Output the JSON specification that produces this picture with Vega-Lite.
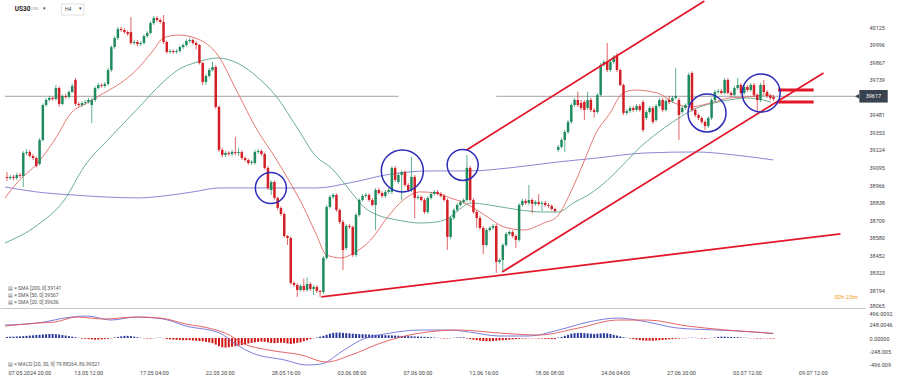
{
"$schema":"https://vega.github.io/schema/vega-lite/v6.json",
"padding":0,
"background":"white",
"bounds":"flush",
"spacing":1,
"config":{"view":{"stroke":null},"font":"Roboto","axis":{"grid":false,"ticks":false,"domain":false,"labelFontSize":5.5,"labelColor":"#444","labelOverlap":false,"labelBound":false,"labelFlush":false}},
"resolve":{"scale":{"x":"independent","y":"independent","color":"independent"}},
"datasets":{
"candles":[
{"i":0,"o":39026,"h":39062,"l":38996,"c":39018,"m":20},
{"i":1,"o":39018,"h":39040,"l":39004,"c":39026,"m":25},
{"i":2,"o":39026,"h":39040,"l":39000,"c":39018,"m":25},
{"i":3,"o":39018,"h":39055,"l":39004,"c":39040,"m":30},
{"i":4,"o":39040,"h":39055,"l":39018,"c":39033,"m":30},
{"i":5,"o":39033,"h":39215,"l":38952,"c":39202,"m":35},
{"i":6,"o":39202,"h":39230,"l":39185,"c":39209,"m":40},
{"i":7,"o":39209,"h":39225,"l":39170,"c":39180,"m":45},
{"i":8,"o":39180,"h":39195,"l":39150,"c":39165,"m":50},
{"i":9,"o":39165,"h":39175,"l":39095,"c":39106,"m":55},
{"i":10,"o":39121,"h":39310,"l":39110,"c":39297,"m":60},
{"i":11,"o":39297,"h":39565,"l":39285,"c":39553,"m":65},
{"i":12,"o":39553,"h":39605,"l":39540,"c":39590,"m":70},
{"i":13,"o":39590,"h":39620,"l":39580,"c":39605,"m":75},
{"i":14,"o":39605,"h":39615,"l":39585,"c":39597,"m":75},
{"i":15,"o":39597,"h":39700,"l":39585,"c":39678,"m":70},
{"i":16,"o":39678,"h":39690,"l":39539,"c":39561,"m":65},
{"i":17,"o":39561,"h":39630,"l":39550,"c":39619,"m":55},
{"i":18,"o":39619,"h":39635,"l":39600,"c":39612,"m":45},
{"i":19,"o":39612,"h":39660,"l":39600,"c":39649,"m":35},
{"i":20,"o":39649,"h":39710,"l":39640,"c":39693,"m":25},
{"i":21,"o":39737,"h":39751,"l":39545,"c":39561,"m":15},
{"i":22,"o":39561,"h":39575,"l":39540,"c":39553,"m":5},
{"i":23,"o":39553,"h":39580,"l":39540,"c":39568,"m":-10},
{"i":24,"o":39568,"h":39590,"l":39555,"c":39575,"m":-15},
{"i":25,"o":39575,"h":39605,"l":39565,"c":39590,"m":-20},
{"i":26,"o":39553,"h":39605,"l":39421,"c":39590,"m":-25},
{"i":27,"o":39590,"h":39690,"l":39575,"c":39678,"m":-30},
{"i":28,"o":39678,"h":39715,"l":39665,"c":39700,"m":-30},
{"i":29,"o":39700,"h":39712,"l":39680,"c":39693,"m":-25},
{"i":30,"o":39693,"h":39722,"l":39680,"c":39707,"m":-20},
{"i":31,"o":39707,"h":39825,"l":39695,"c":39810,"m":-15},
{"i":32,"o":39810,"h":39990,"l":39795,"c":39978,"m":-5},
{"i":33,"o":39978,"h":40058,"l":39965,"c":40044,"m":10},
{"i":34,"o":40044,"h":40125,"l":40030,"c":40110,"m":20},
{"i":35,"o":40110,"h":40125,"l":40090,"c":40103,"m":30},
{"i":36,"o":40103,"h":40115,"l":40075,"c":40088,"m":40},
{"i":37,"o":40088,"h":40100,"l":40060,"c":40074,"m":40},
{"i":38,"o":40088,"h":40198,"l":39995,"c":40008,"m":35},
{"i":39,"o":40008,"h":40030,"l":39995,"c":40015,"m":25},
{"i":40,"o":40015,"h":40030,"l":39985,"c":40000,"m":15},
{"i":41,"o":40000,"h":40022,"l":39985,"c":40008,"m":5},
{"i":42,"o":40008,"h":40070,"l":39995,"c":40059,"m":-5},
{"i":43,"o":40059,"h":40095,"l":40045,"c":40081,"m":-10},
{"i":44,"o":40081,"h":40168,"l":40070,"c":40154,"m":-10},
{"i":45,"o":40154,"h":40205,"l":40140,"c":40191,"m":-5},
{"i":46,"o":40191,"h":40205,"l":40162,"c":40176,"m":5},
{"i":47,"o":40176,"h":40190,"l":40150,"c":40162,"m":5},
{"i":48,"o":40162,"h":40213,"l":40000,"c":40015,"m":-5},
{"i":49,"o":40015,"h":40025,"l":39930,"c":39942,"m":-20},
{"i":50,"o":39942,"h":39962,"l":39930,"c":39949,"m":-25},
{"i":51,"o":39949,"h":39960,"l":39930,"c":39942,"m":-30},
{"i":52,"o":39942,"h":39962,"l":39930,"c":39949,"m":-35},
{"i":53,"o":39949,"h":39990,"l":39938,"c":39978,"m":-35},
{"i":54,"o":39978,"h":40005,"l":39965,"c":39993,"m":-40},
{"i":55,"o":39993,"h":40035,"l":39980,"c":40022,"m":-40},
{"i":56,"o":40022,"h":40045,"l":40010,"c":40030,"m":-40},
{"i":57,"o":40030,"h":40040,"l":39995,"c":40008,"m":-45},
{"i":58,"o":40008,"h":40020,"l":39960,"c":39993,"m":-50},
{"i":59,"o":39993,"h":40000,"l":39850,"c":39861,"m":-55},
{"i":60,"o":39861,"h":39870,"l":39700,"c":39722,"m":-60},
{"i":61,"o":39722,"h":39780,"l":39700,"c":39766,"m":-70},
{"i":62,"o":39766,"h":39825,"l":39755,"c":39810,"m":-80},
{"i":63,"o":39810,"h":39870,"l":39800,"c":39832,"m":-95},
{"i":64,"o":39832,"h":39845,"l":39525,"c":39539,"m":-120},
{"i":65,"o":39539,"h":39550,"l":39210,"c":39224,"m":-150},
{"i":66,"o":39224,"h":39240,"l":39170,"c":39187,"m":-170},
{"i":67,"o":39187,"h":39215,"l":39172,"c":39202,"m":-175},
{"i":68,"o":39202,"h":39215,"l":39180,"c":39194,"m":-170},
{"i":69,"o":39194,"h":39225,"l":39180,"c":39209,"m":-160},
{"i":70,"o":39209,"h":39319,"l":39185,"c":39202,"m":-150},
{"i":71,"o":39202,"h":39240,"l":39180,"c":39209,"m":-140},
{"i":72,"o":39209,"h":39220,"l":39150,"c":39165,"m":-130},
{"i":73,"o":39165,"h":39175,"l":39138,"c":39150,"m":-115},
{"i":74,"o":39150,"h":39160,"l":39115,"c":39128,"m":-100},
{"i":75,"o":39128,"h":39150,"l":39115,"c":39136,"m":-90},
{"i":76,"o":39128,"h":39225,"l":39115,"c":39209,"m":-80},
{"i":77,"o":39209,"h":39230,"l":39195,"c":39216,"m":-70},
{"i":78,"o":39216,"h":39228,"l":39180,"c":39194,"m":-65},
{"i":79,"o":39194,"h":39205,"l":39080,"c":39092,"m":-70},
{"i":80,"o":39092,"h":39105,"l":38930,"c":38945,"m":-80},
{"i":81,"o":38930,"h":39000,"l":38894,"c":38989,"m":-90},
{"i":82,"o":38989,"h":39000,"l":38860,"c":38872,"m":-95},
{"i":83,"o":38872,"h":38880,"l":38785,"c":38798,"m":-90},
{"i":84,"o":38798,"h":38810,"l":38740,"c":38754,"m":-85},
{"i":85,"o":38754,"h":38765,"l":38580,"c":38593,"m":-90},
{"i":86,"o":38593,"h":38600,"l":38527,"c":38578,"m":-100},
{"i":87,"o":38578,"h":38590,"l":38235,"c":38249,"m":-110},
{"i":88,"o":38249,"h":38260,"l":38220,"c":38234,"m":-100},
{"i":89,"o":38234,"h":38245,"l":38146,"c":38197,"m":-90},
{"i":90,"o":38197,"h":38240,"l":38185,"c":38227,"m":-80},
{"i":91,"o":38227,"h":38280,"l":38185,"c":38197,"m":-60},
{"i":92,"o":38197,"h":38290,"l":38185,"c":38241,"m":-40},
{"i":93,"o":38241,"h":38255,"l":38190,"c":38205,"m":-20},
{"i":94,"o":38205,"h":38235,"l":38160,"c":38219,"m":-5},
{"i":95,"o":38219,"h":38235,"l":38175,"c":38190,"m":10},
{"i":96,"o":38190,"h":38200,"l":38146,"c":38183,"m":25},
{"i":97,"o":38183,"h":38445,"l":38170,"c":38432,"m":40},
{"i":98,"o":38432,"h":38820,"l":38420,"c":38806,"m":60},
{"i":99,"o":38806,"h":38892,"l":38795,"c":38879,"m":80},
{"i":100,"o":38879,"h":38908,"l":38865,"c":38894,"m":95},
{"i":101,"o":38894,"h":38905,"l":38770,"c":38784,"m":100},
{"i":102,"o":38784,"h":38795,"l":38680,"c":38696,"m":100},
{"i":103,"o":38696,"h":38710,"l":38344,"c":38490,"m":95},
{"i":104,"o":38505,"h":38680,"l":38490,"c":38666,"m":90},
{"i":105,"o":38666,"h":38680,"l":38645,"c":38659,"m":85},
{"i":106,"o":38659,"h":38670,"l":38440,"c":38454,"m":80},
{"i":107,"o":38454,"h":38760,"l":38440,"c":38747,"m":75},
{"i":108,"o":38747,"h":38870,"l":38735,"c":38857,"m":72},
{"i":109,"o":38857,"h":38900,"l":38845,"c":38886,"m":70},
{"i":110,"o":38886,"h":38908,"l":38875,"c":38894,"m":68},
{"i":111,"o":38894,"h":38905,"l":38845,"c":38857,"m":65},
{"i":112,"o":38857,"h":38870,"l":38810,"c":38820,"m":62},
{"i":113,"o":38820,"h":38945,"l":38637,"c":38930,"m":60},
{"i":114,"o":38930,"h":38945,"l":38895,"c":38908,"m":57},
{"i":115,"o":38908,"h":38920,"l":38872,"c":38886,"m":55},
{"i":116,"o":38886,"h":38930,"l":38872,"c":38916,"m":52},
{"i":117,"o":38916,"h":38945,"l":38900,"c":38930,"m":50},
{"i":118,"o":38916,"h":39105,"l":38900,"c":39092,"m":48},
{"i":119,"o":39092,"h":39105,"l":38990,"c":39004,"m":45},
{"i":120,"o":38989,"h":39055,"l":38975,"c":39040,"m":42},
{"i":121,"o":39040,"h":39075,"l":38857,"c":39062,"m":40},
{"i":122,"o":39062,"h":39075,"l":38955,"c":38967,"m":37},
{"i":123,"o":38967,"h":38980,"l":38915,"c":38930,"m":35},
{"i":124,"o":38930,"h":39172,"l":38915,"c":39026,"m":32},
{"i":125,"o":39026,"h":39040,"l":38725,"c":38872,"m":30},
{"i":126,"o":38872,"h":38895,"l":38860,"c":38879,"m":27},
{"i":127,"o":38879,"h":38890,"l":38845,"c":38857,"m":25},
{"i":128,"o":38857,"h":38870,"l":38755,"c":38769,"m":22},
{"i":129,"o":38769,"h":38885,"l":38755,"c":38872,"m":18},
{"i":130,"o":38872,"h":38915,"l":38860,"c":38901,"m":15},
{"i":131,"o":38901,"h":38930,"l":38890,"c":38916,"m":10},
{"i":132,"o":38916,"h":38930,"l":38890,"c":38901,"m":5},
{"i":133,"o":38901,"h":38915,"l":38875,"c":38886,"m":-5},
{"i":134,"o":38886,"h":38900,"l":38845,"c":38857,"m":-8},
{"i":135,"o":38857,"h":38870,"l":38490,"c":38586,"m":-8},
{"i":136,"o":38586,"h":38740,"l":38570,"c":38725,"m":-5},
{"i":137,"o":38725,"h":38795,"l":38710,"c":38784,"m":5},
{"i":138,"o":38784,"h":38835,"l":38770,"c":38820,"m":10},
{"i":139,"o":38820,"h":38855,"l":38808,"c":38842,"m":12},
{"i":140,"o":38842,"h":38870,"l":38830,"c":38857,"m":15},
{"i":141,"o":38857,"h":39187,"l":38845,"c":39092,"m":-10},
{"i":142,"o":39092,"h":39105,"l":38845,"c":38857,"m":-20},
{"i":143,"o":38857,"h":38870,"l":38755,"c":38769,"m":-30},
{"i":144,"o":38769,"h":38780,"l":38652,"c":38725,"m":-40},
{"i":145,"o":38725,"h":38740,"l":38640,"c":38652,"m":-50},
{"i":146,"o":38652,"h":38665,"l":38461,"c":38527,"m":-55},
{"i":147,"o":38527,"h":38650,"l":38515,"c":38637,"m":-60},
{"i":148,"o":38637,"h":38665,"l":38625,"c":38652,"m":-60},
{"i":149,"o":38652,"h":38680,"l":38640,"c":38666,"m":-55},
{"i":150,"o":38666,"h":38680,"l":38322,"c":38403,"m":-50},
{"i":151,"o":38403,"h":38430,"l":38390,"c":38417,"m":-45},
{"i":152,"o":38417,"h":38540,"l":38329,"c":38527,"m":-40},
{"i":153,"o":38527,"h":38622,"l":38515,"c":38608,"m":-35},
{"i":154,"o":38608,"h":38635,"l":38595,"c":38622,"m":-30},
{"i":155,"o":38622,"h":38635,"l":38580,"c":38593,"m":-25},
{"i":156,"o":38593,"h":38605,"l":38505,"c":38564,"m":-20},
{"i":157,"o":38564,"h":38835,"l":38550,"c":38820,"m":-15},
{"i":158,"o":38820,"h":38865,"l":38808,"c":38850,"m":-10},
{"i":159,"o":38850,"h":38865,"l":38820,"c":38835,"m":-10},
{"i":160,"o":38835,"h":38967,"l":38820,"c":38857,"m":-5},
{"i":161,"o":38857,"h":38870,"l":38760,"c":38828,"m":-5},
{"i":162,"o":38828,"h":38855,"l":38815,"c":38842,"m":-5},
{"i":163,"o":38842,"h":38900,"l":38815,"c":38828,"m":-10},
{"i":164,"o":38828,"h":38850,"l":38776,"c":38835,"m":-10},
{"i":165,"o":38835,"h":38850,"l":38808,"c":38820,"m":-15},
{"i":166,"o":38820,"h":38835,"l":38800,"c":38813,"m":-15},
{"i":167,"o":38813,"h":38825,"l":38780,"c":38791,"m":-20},
{"i":168,"o":38791,"h":38800,"l":38765,"c":38776,"m":-20},
{"i":169,"o":39224,"h":39260,"l":39210,"c":39246,"m":10},
{"i":170,"o":39246,"h":39310,"l":39235,"c":39297,"m":20},
{"i":171,"o":39297,"h":39370,"l":39209,"c":39355,"m":40},
{"i":172,"o":39355,"h":39443,"l":39340,"c":39429,"m":60},
{"i":173,"o":39429,"h":39565,"l":39415,"c":39553,"m":80},
{"i":174,"o":39553,"h":39605,"l":39540,"c":39590,"m":90},
{"i":175,"o":39590,"h":39650,"l":39540,"c":39553,"m":95},
{"i":176,"o":39568,"h":39590,"l":39515,"c":39531,"m":95},
{"i":177,"o":39575,"h":39590,"l":39443,"c":39517,"m":90},
{"i":178,"o":39531,"h":39650,"l":39517,"c":39590,"m":85},
{"i":179,"o":39590,"h":39605,"l":39502,"c":39517,"m":80},
{"i":180,"o":39517,"h":39530,"l":39460,"c":39502,"m":75},
{"i":181,"o":39502,"h":39640,"l":39490,"c":39627,"m":80},
{"i":182,"o":39627,"h":39860,"l":39615,"c":39847,"m":85},
{"i":183,"o":39847,"h":39883,"l":39835,"c":39869,"m":90},
{"i":184,"o":39869,"h":40008,"l":39795,"c":39810,"m":85},
{"i":185,"o":39810,"h":39883,"l":39795,"c":39869,"m":75},
{"i":186,"o":39869,"h":39920,"l":39855,"c":39905,"m":60},
{"i":187,"o":39920,"h":39935,"l":39795,"c":39810,"m":45},
{"i":188,"o":39810,"h":39820,"l":39690,"c":39700,"m":30},
{"i":189,"o":39700,"h":39710,"l":39480,"c":39495,"m":15},
{"i":190,"o":39495,"h":39525,"l":39480,"c":39509,"m":5},
{"i":191,"o":39509,"h":39545,"l":39495,"c":39531,"m":-10},
{"i":192,"o":39531,"h":39545,"l":39500,"c":39517,"m":-20},
{"i":193,"o":39517,"h":39560,"l":39505,"c":39546,"m":-30},
{"i":194,"o":39546,"h":39560,"l":39505,"c":39517,"m":-40},
{"i":195,"o":39575,"h":39590,"l":39355,"c":39370,"m":-45},
{"i":196,"o":39458,"h":39515,"l":39443,"c":39502,"m":-50},
{"i":197,"o":39502,"h":39545,"l":39490,"c":39531,"m":-50},
{"i":198,"o":39531,"h":39545,"l":39415,"c":39429,"m":-50},
{"i":199,"o":39443,"h":39560,"l":39430,"c":39546,"m":-45},
{"i":200,"o":39546,"h":39605,"l":39535,"c":39590,"m":-40},
{"i":201,"o":39590,"h":39605,"l":39500,"c":39517,"m":-35},
{"i":202,"o":39517,"h":39597,"l":39505,"c":39583,"m":-30},
{"i":203,"o":39590,"h":39620,"l":39560,"c":39575,"m":-25},
{"i":204,"o":39583,"h":39620,"l":39570,"c":39605,"m":-20},
{"i":205,"o":39605,"h":39825,"l":39595,"c":39619,"m":-15},
{"i":206,"o":39590,"h":39605,"l":39297,"c":39480,"m":-10},
{"i":207,"o":39502,"h":39545,"l":39490,"c":39531,"m":-5},
{"i":208,"o":39531,"h":39565,"l":39520,"c":39553,"m":-5},
{"i":209,"o":39553,"h":39790,"l":39540,"c":39773,"m":5},
{"i":210,"o":39788,"h":39800,"l":39505,"c":39517,"m":5},
{"i":211,"o":39517,"h":39530,"l":39465,"c":39480,"m":5},
{"i":212,"o":39480,"h":39490,"l":39443,"c":39458,"m":-5},
{"i":213,"o":39458,"h":39470,"l":39415,"c":39429,"m":-10},
{"i":214,"o":39429,"h":39440,"l":39370,"c":39399,"m":-10},
{"i":215,"o":39399,"h":39470,"l":39385,"c":39458,"m":-5},
{"i":216,"o":39458,"h":39605,"l":39443,"c":39590,"m":5},
{"i":217,"o":39590,"h":39663,"l":39575,"c":39649,"m":10},
{"i":218,"o":39649,"h":39670,"l":39635,"c":39656,"m":20},
{"i":219,"o":39656,"h":39670,"l":39630,"c":39641,"m":25},
{"i":220,"o":39641,"h":39751,"l":39630,"c":39737,"m":25},
{"i":221,"o":39737,"h":39750,"l":39630,"c":39641,"m":20},
{"i":222,"o":39641,"h":39655,"l":39612,"c":39627,"m":20},
{"i":223,"o":39627,"h":39692,"l":39615,"c":39678,"m":15},
{"i":224,"o":39678,"h":39750,"l":39665,"c":39700,"m":15},
{"i":225,"o":39700,"h":39715,"l":39627,"c":39641,"m":10},
{"i":226,"o":39641,"h":39700,"l":39630,"c":39685,"m":5},
{"i":227,"o":39685,"h":39700,"l":39650,"c":39663,"m":5},
{"i":228,"o":39663,"h":39715,"l":39650,"c":39700,"m":-5},
{"i":229,"o":39700,"h":39715,"l":39612,"c":39627,"m":-5},
{"i":230,"o":39627,"h":39640,"l":39502,"c":39590,"m":-10},
{"i":231,"o":39590,"h":39715,"l":39575,"c":39700,"m":-10},
{"i":232,"o":39700,"h":39737,"l":39635,"c":39649,"m":-5},
{"i":233,"o":39649,"h":39663,"l":39605,"c":39619,"m":-5},
{"i":234,"o":39619,"h":39635,"l":39590,"c":39605,"m":-10},
{"i":235,"o":39612,"h":39627,"l":39583,"c":39597,"m":-10}
],
"sma":[
{"s":"SMA200","i":-0.6,"p":38952},{"s":"SMA200","i":5,"p":38930},{"s":"SMA200","i":12,"p":38908},{"s":"SMA200","i":20,"p":38894},{"s":"SMA200","i":30,"p":38879},{"s":"SMA200","i":40,"p":38872},{"s":"SMA200","i":48,"p":38886},{"s":"SMA200","i":57,"p":38916},{"s":"SMA200","i":65,"p":38945},{"s":"SMA200","i":80,"p":38945},{"s":"SMA200","i":95,"p":38945},{"s":"SMA200","i":105,"p":38982},{"s":"SMA200","i":118,"p":39048},{"s":"SMA200","i":130,"p":39070},{"s":"SMA200","i":142,"p":39070},{"s":"SMA200","i":154,"p":39092},{"s":"SMA200","i":169,"p":39136},{"s":"SMA200","i":181,"p":39165},{"s":"SMA200","i":196,"p":39202},{"s":"SMA200","i":211,"p":39209},{"s":"SMA200","i":223,"p":39187},{"s":"SMA200","i":235,"p":39150},
{"s":"SMA50","i":-0.6,"p":38542},{"s":"SMA50","i":9.4,"p":38674},{"s":"SMA50","i":17.6,"p":38857},{"s":"SMA50","i":23.6,"p":39099},{"s":"SMA50","i":31.8,"p":39319},{"s":"SMA50","i":39.7,"p":39517},{"s":"SMA50","i":47.9,"p":39722},{"s":"SMA50","i":52.4,"p":39810},{"s":"SMA50","i":58.5,"p":39869},{"s":"SMA50","i":64.6,"p":39898},{"s":"SMA50","i":70.6,"p":39861},{"s":"SMA50","i":76.7,"p":39759},{"s":"SMA50","i":82.7,"p":39612},{"s":"SMA50","i":88.8,"p":39392},{"s":"SMA50","i":94.9,"p":39172},{"s":"SMA50","i":99.4,"p":39092},{"s":"SMA50","i":105.5,"p":38916},{"s":"SMA50","i":109.4,"p":38806},{"s":"SMA50","i":113.6,"p":38747},{"s":"SMA50","i":119.7,"p":38710},{"s":"SMA50","i":126.7,"p":38688},{"s":"SMA50","i":131.8,"p":38696},{"s":"SMA50","i":135.8,"p":38732},{"s":"SMA50","i":139.7,"p":38806},{"s":"SMA50","i":141.8,"p":38835},{"s":"SMA50","i":147.9,"p":38820},{"s":"SMA50","i":157,"p":38784},{"s":"SMA50","i":164.6,"p":38769},{"s":"SMA50","i":169.1,"p":38769},{"s":"SMA50","i":173.6,"p":38835},{"s":"SMA50","i":178.2,"p":38894},{"s":"SMA50","i":184.2,"p":39004},{"s":"SMA50","i":188.8,"p":39114},{"s":"SMA50","i":194.2,"p":39246},{"s":"SMA50","i":201.5,"p":39385},{"s":"SMA50","i":206.4,"p":39465},{"s":"SMA50","i":211.5,"p":39531},{"s":"SMA50","i":216.7,"p":39568},{"s":"SMA50","i":221.5,"p":39590},{"s":"SMA50","i":226.7,"p":39605},{"s":"SMA50","i":231.8,"p":39590},{"s":"SMA50","i":234.2,"p":39575},
{"s":"SMA20","i":-0.6,"p":38872},{"s":"SMA20","i":3.3,"p":38989},{"s":"SMA20","i":9.4,"p":39128},{"s":"SMA20","i":14.6,"p":39297},{"s":"SMA20","i":19.7,"p":39495},{"s":"SMA20","i":24.6,"p":39568},{"s":"SMA20","i":29.7,"p":39641},{"s":"SMA20","i":34.9,"p":39715},{"s":"SMA20","i":39.7,"p":39810},{"s":"SMA20","i":44.9,"p":39956},{"s":"SMA20","i":47.9,"p":40044},{"s":"SMA20","i":52.4,"p":40066},{"s":"SMA20","i":58.5,"p":40037},{"s":"SMA20","i":64.6,"p":39920},{"s":"SMA20","i":70.6,"p":39649},{"s":"SMA20","i":76.7,"p":39370},{"s":"SMA20","i":82.7,"p":39150},{"s":"SMA20","i":86.7,"p":38989},{"s":"SMA20","i":90.9,"p":38806},{"s":"SMA20","i":94.9,"p":38600},{"s":"SMA20","i":97.9,"p":38454},{"s":"SMA20","i":102.4,"p":38432},{"s":"SMA20","i":106.4,"p":38469},{"s":"SMA20","i":111.5,"p":38564},{"s":"SMA20","i":116.7,"p":38732},{"s":"SMA20","i":121.5,"p":38857},{"s":"SMA20","i":126.7,"p":38916},{"s":"SMA20","i":131.8,"p":38908},{"s":"SMA20","i":135.8,"p":38872},{"s":"SMA20","i":139.7,"p":38842},{"s":"SMA20","i":146.4,"p":38747},{"s":"SMA20","i":152.4,"p":38659},{"s":"SMA20","i":158.5,"p":38637},{"s":"SMA20","i":164.6,"p":38688},{"s":"SMA20","i":168.5,"p":38732},{"s":"SMA20","i":172.7,"p":38908},{"s":"SMA20","i":176.7,"p":39128},{"s":"SMA20","i":180.6,"p":39348},{"s":"SMA20","i":184.9,"p":39495},{"s":"SMA20","i":188.8,"p":39641},{"s":"SMA20","i":192.4,"p":39663},{"s":"SMA20","i":199.4,"p":39641},{"s":"SMA20","i":204.6,"p":39568},{"s":"SMA20","i":209.4,"p":39539},{"s":"SMA20","i":216.7,"p":39575},{"s":"SMA20","i":221.5,"p":39605},{"s":"SMA20","i":226.7,"p":39612},{"s":"SMA20","i":232.7,"p":39627},{"s":"SMA20","i":234.9,"p":39619}
],
"macd":[
{"s":"MACD","i":-0.6,"v":239},{"s":"MACD","i":9.4,"v":276},{"s":"MACD","i":19.7,"v":386},{"s":"MACD","i":24.6,"v":405},{"s":"MACD","i":31.8,"v":331},{"s":"MACD","i":39.7,"v":386},{"s":"MACD","i":47.9,"v":350},{"s":"MACD","i":54.9,"v":221},{"s":"MACD","i":65.2,"v":92},{"s":"MACD","i":70,"v":-110},{"s":"MACD","i":75.2,"v":-276},{"s":"MACD","i":85.2,"v":-405},{"s":"MACD","i":91.8,"v":-497},{"s":"MACD","i":96.4,"v":-478},{"s":"MACD","i":102.4,"v":-258},{"s":"MACD","i":108.5,"v":-37},{"s":"MACD","i":117.6,"v":92},{"s":"MACD","i":126.7,"v":147},{"s":"MACD","i":135.8,"v":147},{"s":"MACD","i":141.8,"v":110},{"s":"MACD","i":150.9,"v":37},{"s":"MACD","i":160,"v":37},{"s":"MACD","i":169.1,"v":147},{"s":"MACD","i":178.2,"v":294},{"s":"MACD","i":187.3,"v":368},{"s":"MACD","i":196.4,"v":294},{"s":"MACD","i":205.5,"v":184},{"s":"MACD","i":217.6,"v":147},{"s":"MACD","i":229.7,"v":110},{"s":"MACD","i":234.9,"v":80},
{"s":"Signal","i":-0.6,"v":221},{"s":"Signal","i":9.4,"v":276},{"s":"Signal","i":14.6,"v":294},{"s":"Signal","i":21.5,"v":386},{"s":"Signal","i":29.7,"v":350},{"s":"Signal","i":39.7,"v":386},{"s":"Signal","i":47,"v":368},{"s":"Signal","i":54.9,"v":258},{"s":"Signal","i":63,"v":166},{"s":"Signal","i":68.2,"v":55},{"s":"Signal","i":72.1,"v":-92},{"s":"Signal","i":80.3,"v":-221},{"s":"Signal","i":90.3,"v":-313},{"s":"Signal","i":97.9,"v":-442},{"s":"Signal","i":105.5,"v":-313},{"s":"Signal","i":114.6,"v":-92},{"s":"Signal","i":126.7,"v":92},{"s":"Signal","i":138.8,"v":147},{"s":"Signal","i":150.9,"v":92},{"s":"Signal","i":163,"v":55},{"s":"Signal","i":175.2,"v":184},{"s":"Signal","i":187.3,"v":331},{"s":"Signal","i":196.4,"v":331},{"s":"Signal","i":208.5,"v":221},{"s":"Signal","i":220.6,"v":147},{"s":"Signal","i":234.9,"v":87}
],
"segs":[
{"k":"t","x1":140.9,"p1":39224,"x2":213.8,"p2":40316},
{"k":"t","x1":151.8,"p1":38329,"x2":250.3,"p2":39788},
{"k":"t","x1":96.4,"p1":38146,"x2":255.5,"p2":38608},
{"k":"e","x1":236.4,"p1":39663,"x2":247.3,"p2":39663},
{"k":"e","x1":236.4,"p1":39575,"x2":247.3,"p2":39575}
],
"hline":[{"x1":-0.6,"x2":120,"p":39617},{"x1":150,"x2":261.5,"p":39617}],
"circles":[
{"g":"a","i":80.9,"p":38945},{"g":"a","i":139.7,"p":39114},{"g":"b","i":121.2,"p":39070},{"g":"c","i":214.6,"p":39495},{"g":"c","i":231.2,"p":39641}
]
},
"vconcat":[
{
"width":865,"height":308,
"layer":[
{"data":{"name":"hline"},"mark":{"type":"rule","color":"#8c8c8c","strokeWidth":0.8},
"encoding":{
"x":{"field":"x1","type":"quantitative","title":null,"scale":{"domain":[-0.6,261.5],"nice":false,"zero":false},"axis":{"orient":"bottom","labels":false,"ticks":false,"domain":true,"domainColor":"#c8c8c8","grid":false,"title":null}},
"x2":{"field":"x2"},
"y":{"field":"p","type":"quantitative","title":null,"scale":{"domain":[38065,40323],"nice":false,"zero":false},"axis":{"orient":"right","values":[38065,38194,38323,38452,38580,38709,38838,38966,39095,39224,39353,39481,39739,39867,39996,40125],"tickCount":100,"format":"d","labelFontSize":5.5,"labelColor":"#444","labelPadding":4,"ticks":false,"domain":false,"grid":false,"title":null,"labelOverlap":false,"labelBound":false,"labelFlush":false,"labelBaseline":{"condition":{"test":"datum.value == 38065","value":"bottom"},"value":"middle"}}}}},
{"data":{"name":"sma"},"mark":{"type":"line","strokeWidth":0.9,"interpolate":"monotone"},
"encoding":{
"x":{"field":"i","type":"quantitative","title":null,"scale":{"domain":[-0.6,261.5],"nice":false,"zero":false}},
"y":{"field":"p","type":"quantitative","title":null,"scale":{"domain":[38065,40323],"nice":false,"zero":false}},
"color":{"field":"s","type":"nominal","scale":{"domain":["SMA200","SMA50","SMA20"],"range":["#7c7bd0","#5aa58a","#e26a64"]},"legend":null}}},
{"data":{"name":"candles"},"mark":{"type":"rule","strokeWidth":0.7},
"encoding":{
"x":{"field":"i","type":"quantitative","title":null,"scale":{"domain":[-0.6,261.5],"nice":false,"zero":false}},
"y":{"field":"l","type":"quantitative","title":null,"scale":{"domain":[38065,40323],"nice":false,"zero":false}},
"y2":{"field":"h"},
"color":{"condition":{"test":"datum.c < datum.o","value":"#d31f26"},"value":"#1f8b5f"}}},
{"data":{"name":"candles"},"mark":{"type":"bar","width":2.5},
"encoding":{
"x":{"field":"i","type":"quantitative","title":null,"scale":{"domain":[-0.6,261.5],"nice":false,"zero":false}},
"y":{"field":"o","type":"quantitative","title":null,"scale":{"domain":[38065,40323],"nice":false,"zero":false}},
"y2":{"field":"c"},
"color":{"condition":{"test":"datum.c < datum.o","value":"#d31f26"},"value":"#1f8b5f"}}},
{"data":{"name":"segs"},"transform":[{"filter":"datum.k == 't'"}],"mark":{"type":"rule","color":"#e3172a","strokeWidth":1.8},
"encoding":{
"x":{"field":"x1","type":"quantitative","title":null,"scale":{"domain":[-0.6,261.5],"nice":false,"zero":false}},
"x2":{"field":"x2"},
"y":{"field":"p1","type":"quantitative","title":null,"scale":{"domain":[38065,40323],"nice":false,"zero":false}},
"y2":{"field":"p2"}}},
{"data":{"name":"segs"},"transform":[{"filter":"datum.k == 'e'"}],"mark":{"type":"rule","color":"#e3172a","strokeWidth":3},
"encoding":{
"x":{"field":"x1","type":"quantitative","title":null,"scale":{"domain":[-0.6,261.5],"nice":false,"zero":false}},
"x2":{"field":"x2"},
"y":{"field":"p1","type":"quantitative","title":null,"scale":{"domain":[38065,40323],"nice":false,"zero":false}},
"y2":{"field":"p2"}}},
{"data":{"name":"circles"},"transform":[{"filter":"datum.g == 'a'"}],"mark":{"type":"point","shape":"circle","filled":false,"size":961,"color":"#2b2bb5","strokeWidth":1.5,"opacity":1},
"encoding":{
"x":{"field":"i","type":"quantitative","title":null,"scale":{"domain":[-0.6,261.5],"nice":false,"zero":false}},
"y":{"field":"p","type":"quantitative","title":null,"scale":{"domain":[38065,40323],"nice":false,"zero":false}}}},
{"data":{"name":"circles"},"transform":[{"filter":"datum.g == 'b'"}],"mark":{"type":"point","shape":"circle","filled":false,"size":1764,"color":"#2b2bb5","strokeWidth":1.5,"opacity":1},
"encoding":{
"x":{"field":"i","type":"quantitative","title":null,"scale":{"domain":[-0.6,261.5],"nice":false,"zero":false}},
"y":{"field":"p","type":"quantitative","title":null,"scale":{"domain":[38065,40323],"nice":false,"zero":false}}}},
{"data":{"name":"circles"},"transform":[{"filter":"datum.g == 'c'"}],"mark":{"type":"point","shape":"circle","filled":false,"size":1444,"color":"#2b2bb5","strokeWidth":1.5,"opacity":1},
"encoding":{
"x":{"field":"i","type":"quantitative","title":null,"scale":{"domain":[-0.6,261.5],"nice":false,"zero":false}},
"y":{"field":"p","type":"quantitative","title":null,"scale":{"domain":[38065,40323],"nice":false,"zero":false}}}},
{"data":{"values":[{"t":"▤ × SMA [200, 0] 39141","i":0.3,"p":38212},{"t":"▤ × SMA [50, 0] 39567","i":0.3,"p":38161},{"t":"▤ × SMA [20, 0] 39636","i":0.3,"p":38109}]},
"mark":{"type":"text","align":"left","baseline":"middle","fontSize":5,"color":"#555"},
"encoding":{
"x":{"field":"i","type":"quantitative","title":null,"scale":{"domain":[-0.6,261.5],"nice":false,"zero":false}},
"y":{"field":"p","type":"quantitative","title":null,"scale":{"domain":[38065,40323],"nice":false,"zero":false}},
"text":{"field":"t"}}},
{"data":{"values":[{"t":"00h 23m","i":253.6,"p":38146}]},
"mark":{"type":"text","align":"left","baseline":"middle","fontSize":6,"color":"#f0a020"},
"encoding":{
"x":{"field":"i","type":"quantitative","title":null,"scale":{"domain":[-0.6,261.5],"nice":false,"zero":false}},
"y":{"field":"p","type":"quantitative","title":null,"scale":{"domain":[38065,40323],"nice":false,"zero":false}},
"text":{"field":"t"}}},
{"data":{"values":[{"x1":16.7,"x2":23.6,"p1":40294,"p2":40213}]},
"mark":{"type":"rect","fill":"white","stroke":"#d8d8d8","strokeWidth":0.8},
"encoding":{
"x":{"field":"x1","type":"quantitative","title":null,"scale":{"domain":[-0.6,261.5],"nice":false,"zero":false}},
"x2":{"field":"x2"},
"y":{"field":"p1","type":"quantitative","title":null,"scale":{"domain":[38065,40323],"nice":false,"zero":false}},
"y2":{"field":"p2"}}},
{"data":{"values":[{"t":"US30","i":2.4,"p":40257}]},
"mark":{"type":"text","align":"left","baseline":"middle","fontSize":6.5,"fontWeight":"bold","color":"#222"},
"encoding":{
"x":{"field":"i","type":"quantitative","title":null,"scale":{"domain":[-0.6,261.5],"nice":false,"zero":false}},
"y":{"field":"p","type":"quantitative","title":null,"scale":{"domain":[38065,40323],"nice":false,"zero":false}},
"text":{"field":"t"}}},
{"data":{"values":[{"t":"CFD","i":7.5,"p":40257}]},
"mark":{"type":"text","align":"left","baseline":"middle","fontSize":3.8,"color":"#999"},
"encoding":{
"x":{"field":"i","type":"quantitative","title":null,"scale":{"domain":[-0.6,261.5],"nice":false,"zero":false}},
"y":{"field":"p","type":"quantitative","title":null,"scale":{"domain":[38065,40323],"nice":false,"zero":false}},
"text":{"field":"t"}}},
{"data":{"values":[{"t":"H4","i":17.8,"p":40257},{"t":"▾","i":10.9,"p":40262},{"t":"▾","i":22.1,"p":40262}]},
"mark":{"type":"text","align":"left","baseline":"middle","fontSize":5,"color":"#444"},
"encoding":{
"x":{"field":"i","type":"quantitative","title":null,"scale":{"domain":[-0.6,261.5],"nice":false,"zero":false}},
"y":{"field":"p","type":"quantitative","title":null,"scale":{"domain":[38065,40323],"nice":false,"zero":false}},
"text":{"field":"t"}}},
{"data":{"values":[{"x1":261.3,"x2":270.0,"p1":39663,"p2":39571}]},
"mark":{"type":"rect","color":"#39434f"},
"encoding":{
"x":{"field":"x1","type":"quantitative","title":null,"scale":{"domain":[-0.6,261.5],"nice":false,"zero":false}},
"x2":{"field":"x2"},
"y":{"field":"p1","type":"quantitative","title":null,"scale":{"domain":[38065,40323],"nice":false,"zero":false}},
"y2":{"field":"p2"}}},
{"data":{"values":[{"i":260.6,"p":39617}]},
"mark":{"type":"point","shape":"triangle-left","filled":true,"size":22,"color":"#39434f","opacity":1},
"encoding":{
"x":{"field":"i","type":"quantitative","title":null,"scale":{"domain":[-0.6,261.5],"nice":false,"zero":false}},
"y":{"field":"p","type":"quantitative","title":null,"scale":{"domain":[38065,40323],"nice":false,"zero":false}}}},
{"data":{"values":[{"t":"39617","i":265.6,"p":39617}]},
"mark":{"type":"text","align":"center","baseline":"middle","fontSize":5.5,"color":"white"},
"encoding":{
"x":{"field":"i","type":"quantitative","title":null,"scale":{"domain":[-0.6,261.5],"nice":false,"zero":false}},
"y":{"field":"p","type":"quantitative","title":null,"scale":{"domain":[38065,40323],"nice":false,"zero":false}},
"text":{"field":"t"}}}
]
},
{
"width":865,"height":60,
"layer":[
{"data":{"name":"candles"},"mark":{"type":"bar","width":2},
"encoding":{
"x":{"field":"i","type":"quantitative","title":null,"scale":{"domain":[-0.6,261.5],"nice":false,"zero":false},"axis":{"orient":"bottom","values":[0.3,20.5,40.6,60.8,81,101.2,121.4,141.6,161.8,182,202.2,222.4,242.6],"tickCount":100,"labelExpr":"['07.05.2024 20:00','13.05 12:00','17.05 04:00','22.05 20:00','28.05 16:00','03.06 08:00','07.06 00:00','12.06 16:00','18.06 08:00','24.06 04:00','27.06 20:00','03.07 12:00','09.07 12:00'][indexof([0.3,20.5,40.6,60.8,81,101.2,121.4,141.6,161.8,182,202.2,222.4,242.6], datum.value)]","labelAlign":"left","labelFontSize":5.5,"labelColor":"#444","labelPadding":1,"ticks":false,"domain":false,"grid":false,"title":null,"labelOverlap":false,"labelFlush":false}},
"y":{"field":"m","type":"quantitative","title":null,"scale":{"domain":[-570,534],"nice":false,"zero":false},"axis":{"orient":"right","values":[496.0092,248.0046,0,-248.005,-496.009],"tickCount":100,"labelExpr":"datum.value > 400 ? '496.0092' : datum.value > 200 ? '248.0046' : datum.value > -100 ? '0.00000' : datum.value > -300 ? '-248.005' : '-496.009'","labelFontSize":5.5,"labelColor":"#444","labelPadding":4,"ticks":false,"domain":false,"grid":false,"title":null,"labelOverlap":false,"labelBound":false,"labelFlush":false,"labelBaseline":{"condition":{"test":"datum.value > 400","value":"top"},"value":"middle"}}},
"y2":{"datum":0},
"color":{"condition":{"test":"datum.m < 0","value":"#d01616"},"value":"#2c3a9e"}}},
{"data":{"name":"macd"},"mark":{"type":"line","strokeWidth":0.9,"interpolate":"monotone"},
"encoding":{
"x":{"field":"i","type":"quantitative","title":null,"scale":{"domain":[-0.6,261.5],"nice":false,"zero":false}},
"y":{"field":"v","type":"quantitative","title":null,"scale":{"domain":[-570,534],"nice":false,"zero":false}},
"color":{"field":"s","type":"nominal","scale":{"domain":["MACD","Signal"],"range":["#6e6ed8","#e25555"]},"legend":null}}},
{"data":{"values":[{"t":"▤ × MACD [20, 30, 9] 79.88264, 86.99521","i":0.3,"v":-478}]},
"mark":{"type":"text","align":"left","baseline":"middle","fontSize":5,"color":"#555"},
"encoding":{
"x":{"field":"i","type":"quantitative","title":null,"scale":{"domain":[-0.6,261.5],"nice":false,"zero":false}},
"y":{"field":"v","type":"quantitative","title":null,"scale":{"domain":[-570,534],"nice":false,"zero":false}},
"text":{"field":"t"}}}
]
}
]
}
